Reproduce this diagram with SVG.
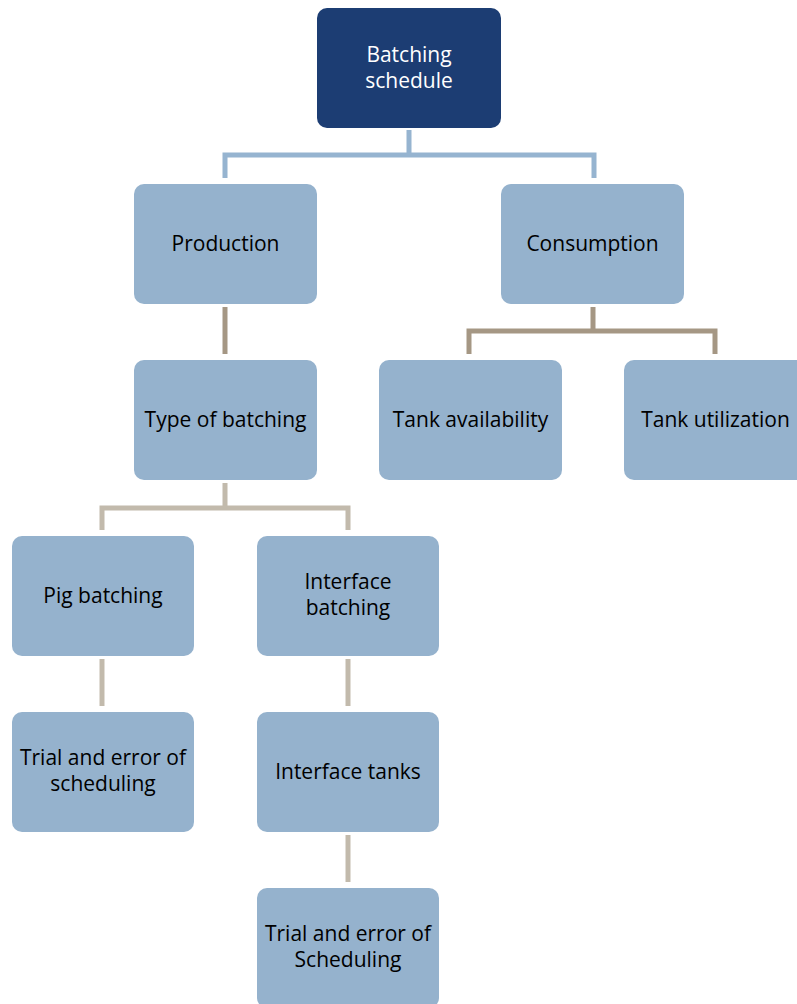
<svg xmlns="http://www.w3.org/2000/svg" width="797" height="1004" viewBox="0 0 797 1004">
<style>
.box{fill:#95B2CD}
.root{fill:#1C3D73}
text{font-family:"Open Sans","Liberation Sans",sans-serif;font-size:21px;text-anchor:middle;dominant-baseline:central;fill:#000}
.w{fill:#fff}
.c1{stroke:#96B4D0;stroke-width:5;fill:none}
.c2{stroke:#A59784;stroke-width:5;fill:none}
.c3{stroke:#C2BAAC;stroke-width:5;fill:none}
</style>
<rect width="797" height="1004" fill="#fff"/>
<g id="connectors">
<path class="c1" d="M409,130V155M225,178V155H594V178"/>
<path class="c2" d="M225,307V354"/>
<path class="c2" d="M593,307V331M469,354V331H715V354"/>
<path class="c3" d="M225,483V508M102,530V508H348V530"/>
<path class="c3" d="M102,659V706"/>
<path class="c3" d="M348,659V706"/>
<path class="c3" d="M348,835V882"/>
</g>
<g id="n-root"><rect class="root" x="317" y="8" width="184" height="120" rx="10"/><text class="w" x="409" y="54">Batching</text><text class="w" x="409" y="80">schedule</text></g>
<g id="n-production"><rect class="box" x="134" y="184" width="183" height="120" rx="10"/><text x="225.5" y="243">Production</text></g>
<g id="n-consumption"><rect class="box" x="501" y="184" width="183" height="120" rx="10"/><text x="592.5" y="243">Consumption</text></g>
<g id="n-type"><rect class="box" x="134" y="360" width="183" height="120" rx="10"/><text x="225.5" y="419">Type of batching</text></g>
<g id="n-tankavail"><rect class="box" x="379" y="360" width="183" height="120" rx="10"/><text x="470.5" y="419">Tank availability</text></g>
<g id="n-tankutil"><rect class="box" x="624" y="360" width="183" height="120" rx="10"/><text x="715.5" y="419">Tank utilization</text></g>
<g id="n-pig"><rect class="box" x="12" y="536" width="182" height="120" rx="10"/><text x="103" y="595">Pig batching</text></g>
<g id="n-interface"><rect class="box" x="257" y="536" width="182" height="120" rx="10"/><text x="348" y="581">Interface</text><text x="348" y="607">batching</text></g>
<g id="n-trial1"><rect class="box" x="12" y="712" width="182" height="120" rx="10"/><text x="103" y="757">Trial and error of</text><text x="103" y="783">scheduling</text></g>
<g id="n-itanks"><rect class="box" x="257" y="712" width="182" height="120" rx="10"/><text x="348" y="771">Interface tanks</text></g>
<g id="n-trial2"><rect class="box" x="257" y="888" width="182" height="120" rx="10"/><text x="348" y="933">Trial and error of</text><text x="348" y="959">Scheduling</text></g>
</svg>
